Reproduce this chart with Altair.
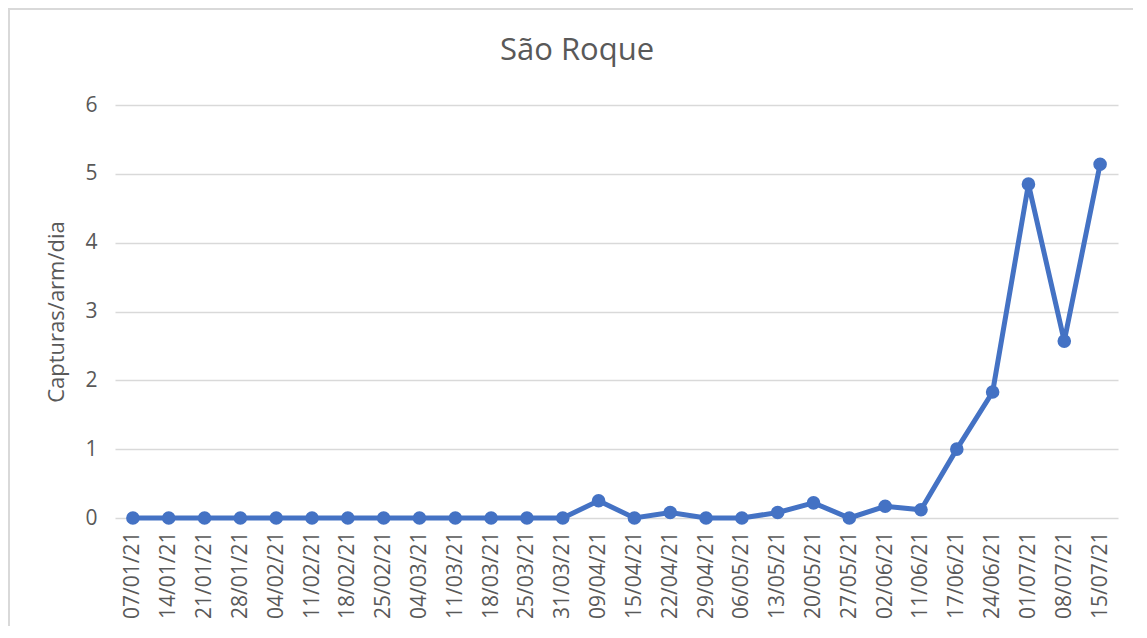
import altair as alt
import pandas as pd

dates = ["07/01/21", "14/01/21", "21/01/21", "28/01/21", "04/02/21", "11/02/21",
         "18/02/21", "25/02/21", "04/03/21", "11/03/21", "18/03/21", "25/03/21",
         "31/03/21", "09/04/21", "15/04/21", "22/04/21", "29/04/21", "06/05/21",
         "13/05/21", "20/05/21", "27/05/21", "02/06/21", "11/06/21", "17/06/21",
         "24/06/21", "01/07/21", "08/07/21", "15/07/21"]
values = [0, 0, 0, 0, 0, 0,
          0, 0, 0, 0, 0, 0,
          0, 0.25, 0, 0.08, 0, 0,
          0.08, 0.22, 0, 0.17, 0.12, 1.0,
          1.83, 4.85, 2.57, 5.14]
title_text = ["São Roque"]

df = pd.DataFrame({"data": dates, "valor": values})
tdf = pd.DataFrame({"t": title_text})

FONT = "Open Sans"
GREY = "#595959"

x = alt.X("data:N", sort=dates, title=None,
          scale=alt.Scale(type="point", padding=0.5),
          axis=alt.Axis(labelAngle=-90, labelFontSize=21, labelColor=GREY, labelFont=FONT,
                        labelPadding=13, ticks=False, domain=False, grid=False,
                        labelBaseline="middle", labelAlign="right"))
y = alt.Y("valor:Q", title="Capturas/arm/dia",
          scale=alt.Scale(domain=[0, 6], nice=False),
          axis=alt.Axis(values=[0, 1, 2, 3, 4, 5, 6], labelFontSize=21, labelColor=GREY,
                        labelFont=FONT, labelPadding=18, ticks=False, domain=False,
                        gridColor="#d9d9d9", gridWidth=1.5,
                        titleFont=FONT, titleFontSize=22, titleColor=GREY,
                        titleFontWeight="normal", titlePadding=16))

line = alt.Chart(df).mark_line(color="#4472C4", strokeWidth=5).encode(x=x, y=y)
pts = alt.Chart(df).mark_circle(color="#4472C4", size=185, opacity=1).encode(x=x, y=y)

border = alt.Chart(df).mark_rect(fill=None, stroke="#d9d9d9", strokeWidth=1.5, clip=False).encode(
    x=alt.value(-106), x2=alt.value(1100), y=alt.value(-96), y2=alt.value(560))

title = alt.Chart(tdf).mark_text(font=FONT, fontSize=31, color=GREY, align="center",
                                 baseline="middle").encode(
    text="t:N", x=alt.value(462), y=alt.value(-54))

chart = alt.layer(border, line, pts, title).properties(
    width=1003, height=413,
    autosize=alt.AutoSizeParams(type="none"),
    padding={"left": 107, "top": 97, "right": 15, "bottom": 108},
).configure(background="white").configure_view(stroke=None)

chart.save("out.html", embed_options={"renderer": "svg", "actions": False})
